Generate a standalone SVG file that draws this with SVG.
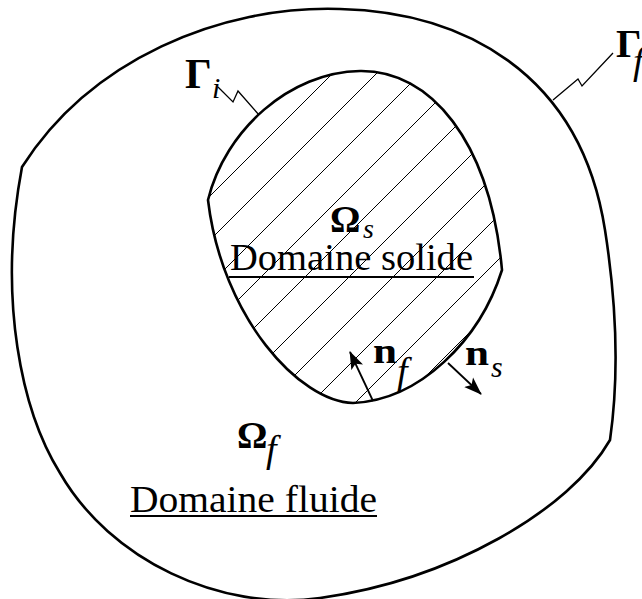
<svg xmlns="http://www.w3.org/2000/svg" width="642" height="599" viewBox="0 0 642 599">
  <style>
    .bound { fill: none; stroke: #000; stroke-width: 2.6; stroke-linejoin: round; }
    .hatch { stroke: #000; stroke-width: 1; }
    .zig { fill: none; stroke: #000; stroke-width: 1.3; }
    .arr { fill: none; stroke: #000; stroke-width: 1.8; }
    .sym { font-family: "Liberation Serif", "DejaVu Serif", serif; font-weight: bold; fill: #000; }
    .sub { font-family: "Liberation Serif", "DejaVu Serif", serif; font-style: italic; fill: #000; }
    .lbl { font-family: "Liberation Serif", "DejaVu Serif", serif; font-size: 38px; fill: #000; }
    .ul { stroke: #000; stroke-width: 2; }
  </style>
  <defs>
    <clipPath id="innerClip">
      <path d="M208,200 C225,130 290,72 360,71 C430,70 490,140 502,270 C480,340 420,400 353,403 C300,402 222,318 208,200 Z"/>
    </clipPath>
    <marker id="head" markerUnits="userSpaceOnUse" markerWidth="18" markerHeight="14" refX="17" refY="7" orient="auto">
      <path d="M0,0.5 L18,7 L0,13.5 L4,7 Z" fill="#000"/>
    </marker>
  </defs>
  <rect width="642" height="599" fill="#fff"/>

  <g id="fluid-domain">
    <path class="bound" d="M22,167 C90,60 220,5 340,9 C460,12 580,70 605,230 C615,294 620,370 610,440 C570,510 450,580 320,598 C220,612 110,560 60,473 C22,412 -3,300 22,167 Z"/>
    <text class="sym" x="237" y="448" font-size="38">Ω</text>
    <text class="sub" x="266" y="462" font-size="38">f</text>
    <text class="lbl" x="130" y="512" textLength="247" lengthAdjust="spacingAndGlyphs">Domaine fluide</text>
    <line class="ul" x1="130" y1="516" x2="377" y2="516"/>
  </g>

  <g id="solid-domain">
    <g clip-path="url(#innerClip)">
      <line class="hatch" x1="150" y1="256" x2="600" y2="-194"/>
      <line class="hatch" x1="150" y1="300" x2="600" y2="-150"/>
      <line class="hatch" x1="150" y1="344" x2="600" y2="-106"/>
      <line class="hatch" x1="150" y1="388" x2="600" y2="-62"/>
      <line class="hatch" x1="150" y1="432" x2="600" y2="-18"/>
      <line class="hatch" x1="150" y1="476" x2="600" y2="26"/>
      <line class="hatch" x1="150" y1="520" x2="600" y2="70"/>
      <line class="hatch" x1="150" y1="564" x2="600" y2="114"/>
      <line class="hatch" x1="150" y1="608" x2="600" y2="158"/>
      <line class="hatch" x1="150" y1="652" x2="600" y2="202"/>
    </g>
    <path class="bound" d="M208,200 C225,130 290,72 360,71 C430,70 490,140 502,270 C480,340 420,400 353,403 C300,402 222,318 208,200 Z"/>
    <text class="sym" x="330" y="232" font-size="38">Ω</text>
    <text class="sub" x="363" y="238" font-size="28">s</text>
    <text class="lbl" x="230" y="270" textLength="243" lengthAdjust="spacingAndGlyphs">Domaine solide</text>
    <line class="ul" x1="229" y1="277" x2="474" y2="277"/>
  </g>

  <g id="label-gamma-i">
    <text class="sym" x="185" y="88" font-size="42">Γ</text>
    <text class="sub" x="212" y="98" font-size="30">i</text>
  </g>

  <g id="label-gamma-f">
    <text class="sym" x="616" y="57" font-size="40">Γ</text>
    <text class="sub" x="633" y="74" font-size="38">f</text>
  </g>

  <g id="label-nf">
    <text class="sym" x="373" y="363" font-size="36" textLength="24" lengthAdjust="spacingAndGlyphs">n</text>
    <text class="sub" x="397" y="384" font-size="38">f</text>
  </g>

  <g id="label-ns">
    <text class="sym" x="465" y="365" font-size="36" textLength="24" lengthAdjust="spacingAndGlyphs">n</text>
    <text class="sub" x="491" y="377" font-size="30">s</text>
  </g>

  <g id="connectors">
    <polyline class="zig" points="218,87 233,102 238,91 259,115"/>
    <polyline class="zig" points="553,100 578,79 582,86 613,53"/>
    <line class="arr" x1="373" y1="401" x2="350" y2="352" marker-end="url(#head)"/>
    <line class="arr" x1="448" y1="363" x2="481" y2="394" marker-end="url(#head)"/>
  </g>
</svg>
